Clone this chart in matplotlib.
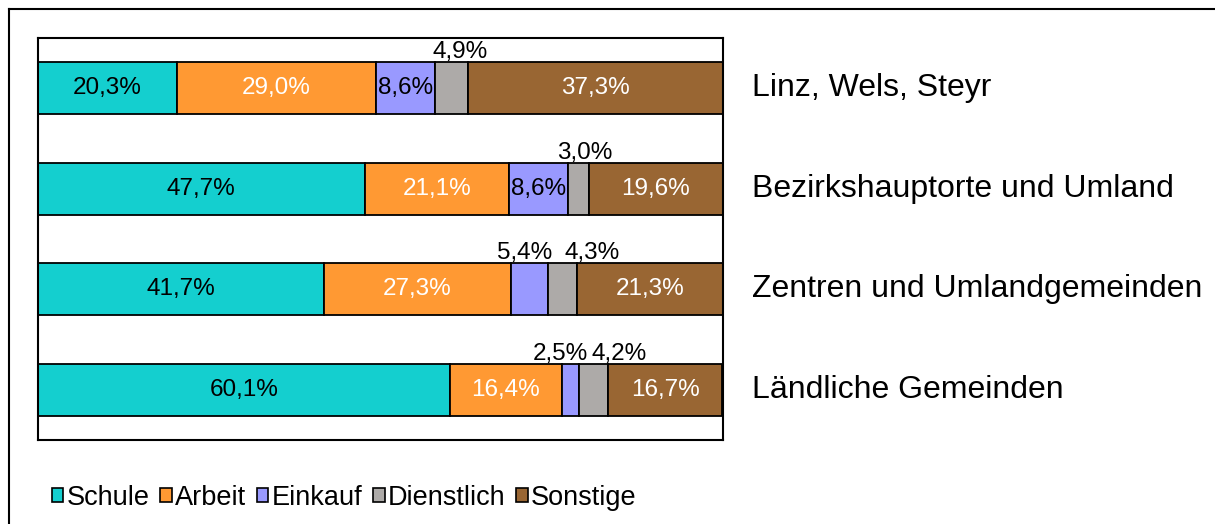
import matplotlib
matplotlib.use('Agg')
import matplotlib.pyplot as plt
from matplotlib.patches import Patch
from matplotlib.lines import Line2D

plt.rcParams['font.family'] = ['Liberation Sans', 'DejaVu Sans']

regions = ['Linz, Wels, Steyr', 'Bezirkshauptorte und Umland',
           'Zentren und Umlandgemeinden', 'Ländliche Gemeinden']
purposes = ['Schule', 'Arbeit', 'Einkauf', 'Dienstlich', 'Sonstige']

schule = [20.3, 47.7, 41.7, 60.1]
arbeit = [29.0, 21.1, 27.3, 16.4]
einkauf = [8.6, 8.6, 5.4, 2.5]
dienstlich = [4.9, 3.0, 4.3, 4.2]
sonstige = [37.3, 19.6, 21.3, 16.7]

series = [schule, arbeit, einkauf, dienstlich, sonstige]
colors = ['#14CFCF', '#FF9933', '#9999FF', '#ADAAA8', '#996633']
text_colors = ['black', 'white', 'black', 'black', 'white']

# kleine Segmente: Beschriftung oberhalb (x-Versatz in Pixel)
above_offset = {(0, 3): 9, (1, 3): 6, (2, 2): -5, (2, 3): 30,
                (3, 2): -10, (3, 3): 26}

fig = plt.figure(figsize=(12.15, 5.24), dpi=100)
ax = fig.add_axes([38 / 1215, 1 - 440 / 524, 685 / 1215, 402 / 524])

y = list(range(len(regions)))
left = [0.0] * len(regions)
for k, vals in enumerate(series):
    ax.barh(y, vals, left=left, height=0.52, color=colors[k],
            edgecolor='black', linewidth=1.3)
    for i, v in enumerate(vals):
        cx = left[i] + v / 2
        lab = f'{v:.1f}%'.replace('.', ',')
        if (i, k) in above_offset:
            ax.annotate(lab, (cx, i - 0.26), xytext=(above_offset[(i, k)], 10),
                        textcoords='offset pixels', ha='center', va='center',
                        fontsize=17.5, color='black')
        else:
            ax.text(cx, i, lab, ha='center', va='center', fontsize=17.5,
                    color=text_colors[k])
    left = [l + v for l, v in zip(left, vals)]

for i, r in enumerate(regions):
    ax.annotate(r, (1.042, i), xycoords=('axes fraction', 'data'),
                ha='left', va='center', fontsize=23)

ax.set_xlim(0, 100)
ax.set_ylim(len(regions) - 0.5, -0.5)
ax.set_xticks([])
ax.set_yticks([])
for s in ax.spines.values():
    s.set_linewidth(1.5)

handles = [Patch(facecolor=c, edgecolor='black', linewidth=1.2) for c in colors]
fig.legend(handles, purposes, loc='center left', bbox_to_anchor=(52 / 1215, 1 - 498 / 524),
           ncol=5, frameon=False, fontsize=19.5, handlelength=0.42, handleheight=0.42,
           handletextpad=0.12, columnspacing=0.4, borderpad=0, borderaxespad=0)

# Rahmen (links und oben)
fig.add_artist(Line2D([9 / 1215, 9 / 1215], [0, 1 - 9 / 524], color='black', linewidth=1.5))
fig.add_artist(Line2D([9 / 1215, 1], [1 - 9 / 524, 1 - 9 / 524], color='black', linewidth=1.5))

fig.savefig('out.png', dpi=100)
